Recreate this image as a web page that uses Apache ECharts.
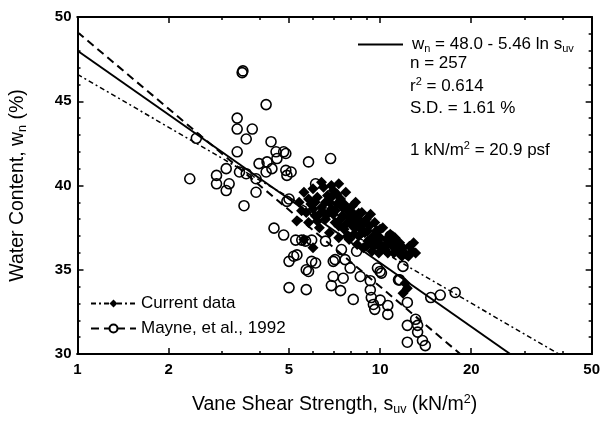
<!DOCTYPE html>
<html>
<head>
<meta charset="utf-8">
<script src="https://cdn.jsdelivr.net/npm/echarts@6/dist/echarts.min.js"></script>
<style>html,body{margin:0;padding:0;background:#fff}#c{width:603px;height:421px}</style>
</head>
<body>
<div id="c"></div>
<script>
// ---- data ----
var xMajorTicks = [1, 2, 5, 10, 20, 50];
var xMinorTicks = [3, 4, 6, 7, 8, 9, 30, 40];
var fitLine = [[1, 48.0], [26.9, 30]];
var currentLine = [[1, 46.6], [38.9, 30]];
var mayneLine = [[1, 49.1], [18.4, 30]];
var mayneData = [
[2.47,42.8],[3.50,46.7],[3.52,46.8],[4.2,44.8],[3.37,44.0],[3.37,43.35],[3.78,43.35],[3.61,42.76],
[2.35,40.4],[2.88,40.6],[2.88,40.1],[3.10,39.7],[3.17,40.1],[3.10,41.0],[3.37,42.0],[3.43,40.8],
[3.61,40.7],[3.89,39.6],[3.98,41.3],[4.23,41.4],[4.36,42.6],[4.53,42.0],[4.88,41.9],[4.56,41.6],
[4.39,41.0],[4.2,40.8],[3.89,40.4],[3.55,38.8],[5.0,39.2],[4.46,37.47],[4.8,37.06],[5.26,36.76],
[5.0,35.5],[5.18,35.8],[5.0,33.94],[5.51,36.76],[5.67,36.7],[5.94,36.76],[5.31,35.88],[5.7,35.0],
[6.12,35.4],[5.7,33.82],[6.6,36.7],[7.0,35.5],[7.0,34.6],[7.55,34.5],[6.9,34.06],[7.4,33.76],
[8.15,33.24],[7.66,35.6],[7.96,35.1],[8.6,34.6],[9.28,34.35],[9.28,33.8],[9.35,33.35],[9.5,32.94],
[9.6,32.65],[8.36,36.1],[7.45,36.2],[10.8,37.0],[11.2,36.7],[11.9,35.2],[10.1,34.8],[11.6,34.4],
[14.7,33.35],[15.8,33.5],[17.7,33.65],[12.3,33.06],[10.6,32.88],[10.6,32.35],[13.1,32.06],[12.3,31.7],
[13.3,31.7],[13.3,31.3],[12.3,30.7],[13.8,30.8],[14.1,30.5],[10.0,33.2],[9.8,35.1],[6.86,41.6],
[5.8,41.4],[4.8,42.0],[4.88,40.9],[5.08,40.8],[4.92,40.6],[6.12,40.1],[4.92,39.06],[5.94,35.5],
[5.8,34.9],[7.1,35.6],[10.0,34.9],[11.5,34.4]
];
var currentData = [
[5.4,39.0],[5.6,39.6],[5.7,38.4],[5.8,37.8],[5.9,38.9],[6.0,39.8],[6.1,38.2],[6.2,39.3],[6.3,37.5],
[6.4,38.7],[6.5,39.9],[6.6,38.0],[6.7,39.4],[6.8,37.2],[6.9,38.6],[7.0,39.7],[7.1,37.8],[7.2,38.9],
[7.3,36.9],[7.4,39.2],[7.5,38.2],[7.6,37.4],[7.7,39.6],[7.8,38.5],[7.9,36.8],[8.0,37.9],[8.1,38.8],
[8.2,37.1],[8.3,39.0],[8.4,36.5],[8.5,38.0],[8.6,37.5],[8.7,38.4],[8.8,36.3],[8.9,37.2],[9.0,38.0],
[9.1,36.7],[9.2,37.6],[9.3,38.3],[9.4,36.1],[9.5,37.0],[9.6,37.8],[9.7,36.5],[9.8,37.3],[9.9,36.0],
[10.0,36.9],[10.2,37.5],[10.3,36.3],[10.5,36.8],[10.6,36.0],[10.8,37.1],[11.0,36.4],[11.2,36.9],
[11.4,36.1],[11.6,36.6],[11.9,36.3],[12.2,35.9],[12.5,36.4],[12.8,36.1],[13.1,36.0],
[5.3,37.9],[6.0,36.3],[5.6,36.8],[12.3,33.9],[11.9,33.6],[12.1,34.2],[6.9,40.0],[7.3,40.1],[6.4,40.2],
[7.0,38.3],[7.5,38.7],[8.0,38.4],[6.5,38.4],[7.8,37.0],[8.5,37.0],[9.0,36.4],[10.0,37.4],[6.2,37.9],
[6.8,39.0],[7.3,37.6],[8.3,37.5],[9.5,36.4],[10.4,36.2],[8.5,38.35],[9.7,37.3],[12.9,36.6],
[5.5,38.5],[5.8,39.2],[6.1,39.0],[6.3,38.3],[6.6,39.0],[6.9,39.3],[7.1,38.5],[7.4,38.0],[7.6,38.9],
[7.9,38.1],[8.1,37.6],[8.4,37.8],[8.7,37.2],[8.9,37.8],[9.1,37.3],[9.3,36.8],[9.6,36.9],[9.9,36.6],
[10.1,36.4],[10.6,36.6],[11.1,36.0],[11.4,36.6],[11.8,35.8],[12.4,35.8],[7.7,37.7],[8.2,38.3],
[6.7,38.3],[6.0,38.6],[7.2,39.5],[10.9,36.8]
];

var FONT = 'Liberation Sans, Arial, Helvetica, sans-serif';
var TICKC = '#000';
var richSub = {
  a: {fontSize: 17, fontFamily: FONT, color: '#000', lineHeight: 20},
  sub: {fontSize: 11, fontFamily: FONT, color: '#000', lineHeight: 12, verticalAlign: 'bottom'},
  sup: {fontSize: 11, fontFamily: FONT, color: '#000', lineHeight: 12, verticalAlign: 'top'},
  g: {width: 4}
};
var richName = {
  a: {fontSize: 19.5, fontFamily: FONT, color: '#000', lineHeight: 23},
  sub: {fontSize: 12.5, fontFamily: FONT, color: '#000', lineHeight: 14, verticalAlign: 'bottom'},
  sup: {fontSize: 12.5, fontFamily: FONT, color: '#000', lineHeight: 14, verticalAlign: 'top'}
};

// tick-only overlay axes: a linear scale over log10(s), aligned with the log data axis
var LMAX = Math.log10(50);
function tickAxisX(pos, ticks, len) {
  return {
    type: 'value', min: 0, max: LMAX, position: pos, gridIndex: 0,
    axisLine: {show: true, onZero: false, lineStyle: {color: '#000', width: 2}},
    axisTick: {show: true, inside: true, length: len, customValues: ticks.map(Math.log10), lineStyle: {color: TICKC, width: 1.5}},
    axisLabel: {show: false}, splitLine: {show: false}, minorTick: {show: false}
  };
}

var chart = echarts.init(document.getElementById('c'), null, {renderer: 'canvas'});

var option = {
  animation: false,
  backgroundColor: '#fff',
  grid: {left: 77, right: 8, top: 17, bottom: 64, containLabel: false},
  xAxis: [
    {type: 'log', logBase: 10, min: 1, max: 50, position: 'bottom', gridIndex: 0,
     name: '{a|Vane Shear Strength, s}{sub|uv}{a| (kN/m}{sup|2}{a|)}',
     nameLocation: 'middle', nameGap: 39, nameTextStyle: {rich: richName},
     axisLine: {show: true, onZero: false, lineStyle: {color: '#000', width: 2}},
     axisTick: {show: false},
     axisLabel: {show: true, customValues: xMajorTicks, fontSize: 15, fontWeight: 'bold', fontFamily: FONT, color: '#000', margin: 8},
     splitLine: {show: false}, minorTick: {show: false}},
    tickAxisX('bottom', xMajorTicks, 6),
    tickAxisX('bottom', xMinorTicks, 3),
    tickAxisX('top', xMajorTicks, 6),
    tickAxisX('top', xMinorTicks, 3)
  ],
  yAxis: [
    {type: 'value', min: 30, max: 50, interval: 5, position: 'left',
     name: '{a|Water Content, w}{sub|n}{a| (%)}', nameLocation: 'middle', nameGap: 48, nameRotate: 90,
     nameTextStyle: {rich: richName},
     axisLine: {show: true, onZero: false, lineStyle: {color: '#000', width: 2}},
     axisTick: {show: true, inside: true, length: 6, lineStyle: {color: TICKC, width: 1.5}},
     minorTick: {show: true, splitNumber: 5, length: 3, lineStyle: {color: TICKC, width: 1.5}},
     axisLabel: {fontSize: 15, fontWeight: 'bold', fontFamily: FONT, color: '#000', margin: 6},
     splitLine: {show: false}},
    {type: 'value', min: 30, max: 50, interval: 5, position: 'right',
     axisLine: {show: true, onZero: false, lineStyle: {color: '#000', width: 2}},
     axisTick: {show: true, inside: true, length: 6, lineStyle: {color: TICKC, width: 1.5}},
     minorTick: {show: true, splitNumber: 5, length: 3, lineStyle: {color: TICKC, width: 1.5}},
     axisLabel: {show: false}, splitLine: {show: false}}
  ],
  legend: [
    {data: ['Current data', 'Mayne, et al., 1992'], orient: 'vertical', left: 85, top: 290,
     itemWidth: 45, itemHeight: 10, itemGap: 8, selectedMode: false,
     textStyle: {fontSize: 17, fontFamily: FONT, color: '#000'}},
    {data: [{name: 'fit', itemStyle: {opacity: 0}}], orient: 'vertical', left: 352, top: 31, itemWidth: 45, itemHeight: 10, selectedMode: false,
     formatter: function () { return '{g|}{a|w}{sub|n}{a| = 48.0 - 5.46 ln s}{sub|uv}'; },
     textStyle: {rich: richSub}}
  ],
  graphic: [
    {type: 'text', left: 410, top: 55, style: {text: 'n = 257', font: '17px ' + FONT, fill: '#000'}},
    {type: 'text', left: 410, top: 76, style: {text: '{a|r}{sup|2}{a| = 0.614}', rich: richSub}},
    {type: 'text', left: 410, top: 100, style: {text: 'S.D. = 1.61 %', font: '17px ' + FONT, fill: '#000'}},
    {type: 'text', left: 410, top: 140, style: {text: '{a|1 kN/m}{sup|2}{a| = 20.9 psf}', rich: richSub}}
  ],
  series: [
    {name: 'Current data', type: 'line', data: currentLine, xAxisIndex: 0, yAxisIndex: 0, z: 4,
     symbol: 'diamond', symbolSize: 10, showSymbol: false, itemStyle: {color: '#000'},
     lineStyle: {color: '#000', width: 1.5, type: [5, 3, 2, 3]}},
    {name: 'Mayne, et al., 1992', type: 'line', data: mayneLine, xAxisIndex: 0, yAxisIndex: 0, z: 4,
     symbol: 'emptyCircle', symbolSize: 10, showSymbol: false, itemStyle: {color: '#000', borderWidth: 1.5},
     lineStyle: {color: '#000', width: 2, type: [8, 5]}},
    {name: 'fit', type: 'line', data: fitLine, xAxisIndex: 0, yAxisIndex: 0, z: 4,
     symbol: 'circle', showSymbol: false, itemStyle: {color: '#000'},
     lineStyle: {color: '#000', width: 2, type: 'solid'}},
    {name: 'Mayne, et al., 1992', type: 'scatter', data: mayneData, xAxisIndex: 0, yAxisIndex: 0, z: 2,
     symbol: 'circle', symbolSize: 10,
     itemStyle: {color: 'rgba(0,0,0,0)', borderColor: '#000', borderWidth: 1.6, opacity: 1}},
    {name: 'Current data', type: 'scatter', data: currentData, xAxisIndex: 0, yAxisIndex: 0, z: 3,
     symbol: 'diamond', symbolSize: 11, itemStyle: {color: '#000', opacity: 1}}
  ]
};
chart.setOption(option);
</script>
</body>
</html>
